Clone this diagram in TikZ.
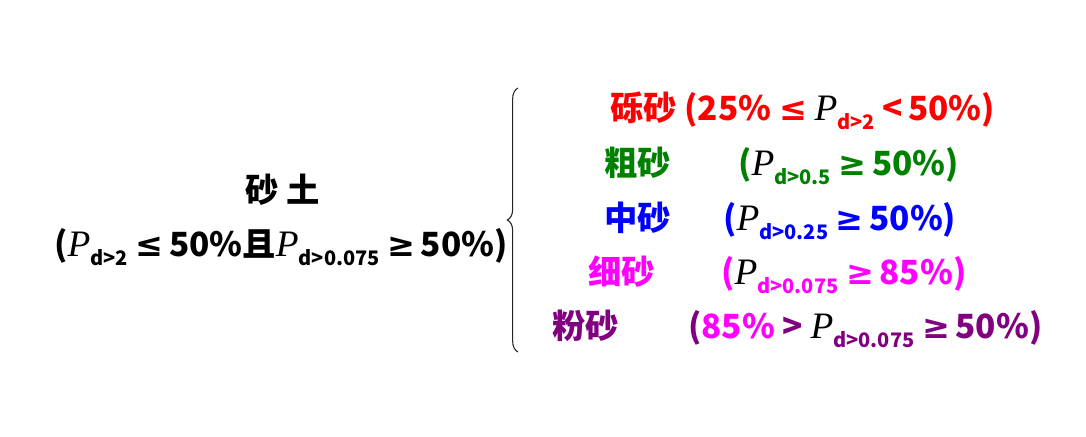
\documentclass[tikz,border=0pt]{standalone}
\usepackage{fontspec}
\setmainfont{Noto Sans CJK SC}
\newfontfamily\pfont{Liberation Serif}
\newfontfamily\symfont{DejaVu Sans}
\usetikzlibrary{decorations.pathreplacing}

\definecolor{gravelred}{RGB}{255,0,0}
\definecolor{coarsegreen}{RGB}{0,128,0}
\definecolor{mediumblue}{RGB}{0,0,255}
\definecolor{finemagenta}{RGB}{255,0,255}
\definecolor{siltpurple}{RGB}{128,0,128}

\newcommand{\Pd}[1]{{\color{black}\pfont\itshape\mdseries\fontsize{28}{30}\selectfont P}\raisebox{-0.55ex}{\fontsize{15}{15}\selectfont d>#1}}
\newcommand{\lesym}{{\symfont ≤}}
\newcommand{\gesym}{{\symfont ≥}}

\begin{document}
\begin{tikzpicture}[
  x=0.75pt, y=-0.75pt,
  font=\fontsize{25}{28}\selectfont\bfseries,
  txt/.style={inner sep=0pt, anchor=base west},
  soil/.style={txt, anchor=base},
  gravel/.style={txt, text=gravelred},
  coarse/.style={txt, text=coarsegreen},
  medium/.style={txt, text=mediumblue},
  fine/.style={txt, text=finemagenta},
  silt/.style={txt, text=siltpurple},
  bracket/.style={decorate, decoration={brace, amplitude=8pt}, line width=0.8pt, draw=black!85}
]
\useasboundingbox (0,0) rectangle (1086,436);

\node[soil] (sandname) at (283,202) {砂 土};
\node[soil] (sandcond) at (281,256) {(\Pd{2} \lesym\,50\%且\Pd{0.075} \gesym\,50\%)};

\coordinate (bbot) at (518,352);
\coordinate (btop) at (518,88);
\draw[bracket] (bbot) -- (btop);

\node[gravel] (gravel) at (610,120) {砾砂 (25\% \lesym{} \Pd{2} <\,50\%)};

\node[coarse] (coarsename) at (604,175) {粗砂};
\node[coarse] (coarsecond) at (738,175) {(\Pd{0.5} \gesym\,50\%)};

\node[medium] (mediumname) at (604,230) {中砂};
\node[medium] (mediumcond) at (723,230) {(\Pd{0.25} \gesym\,50\%)};

\node[fine] (finename) at (588,284) {细砂};
\node[fine] (finecond) at (721,284) {(\Pd{0.075} \gesym\,85\%)};

\node[silt] (siltname) at (552,338) {粉砂};
\node[silt] (siltcond) at (688,338) {(\textcolor{finemagenta}{85\%} > \Pd{0.075} \gesym\,50\%)};

\end{tikzpicture}
\end{document}
